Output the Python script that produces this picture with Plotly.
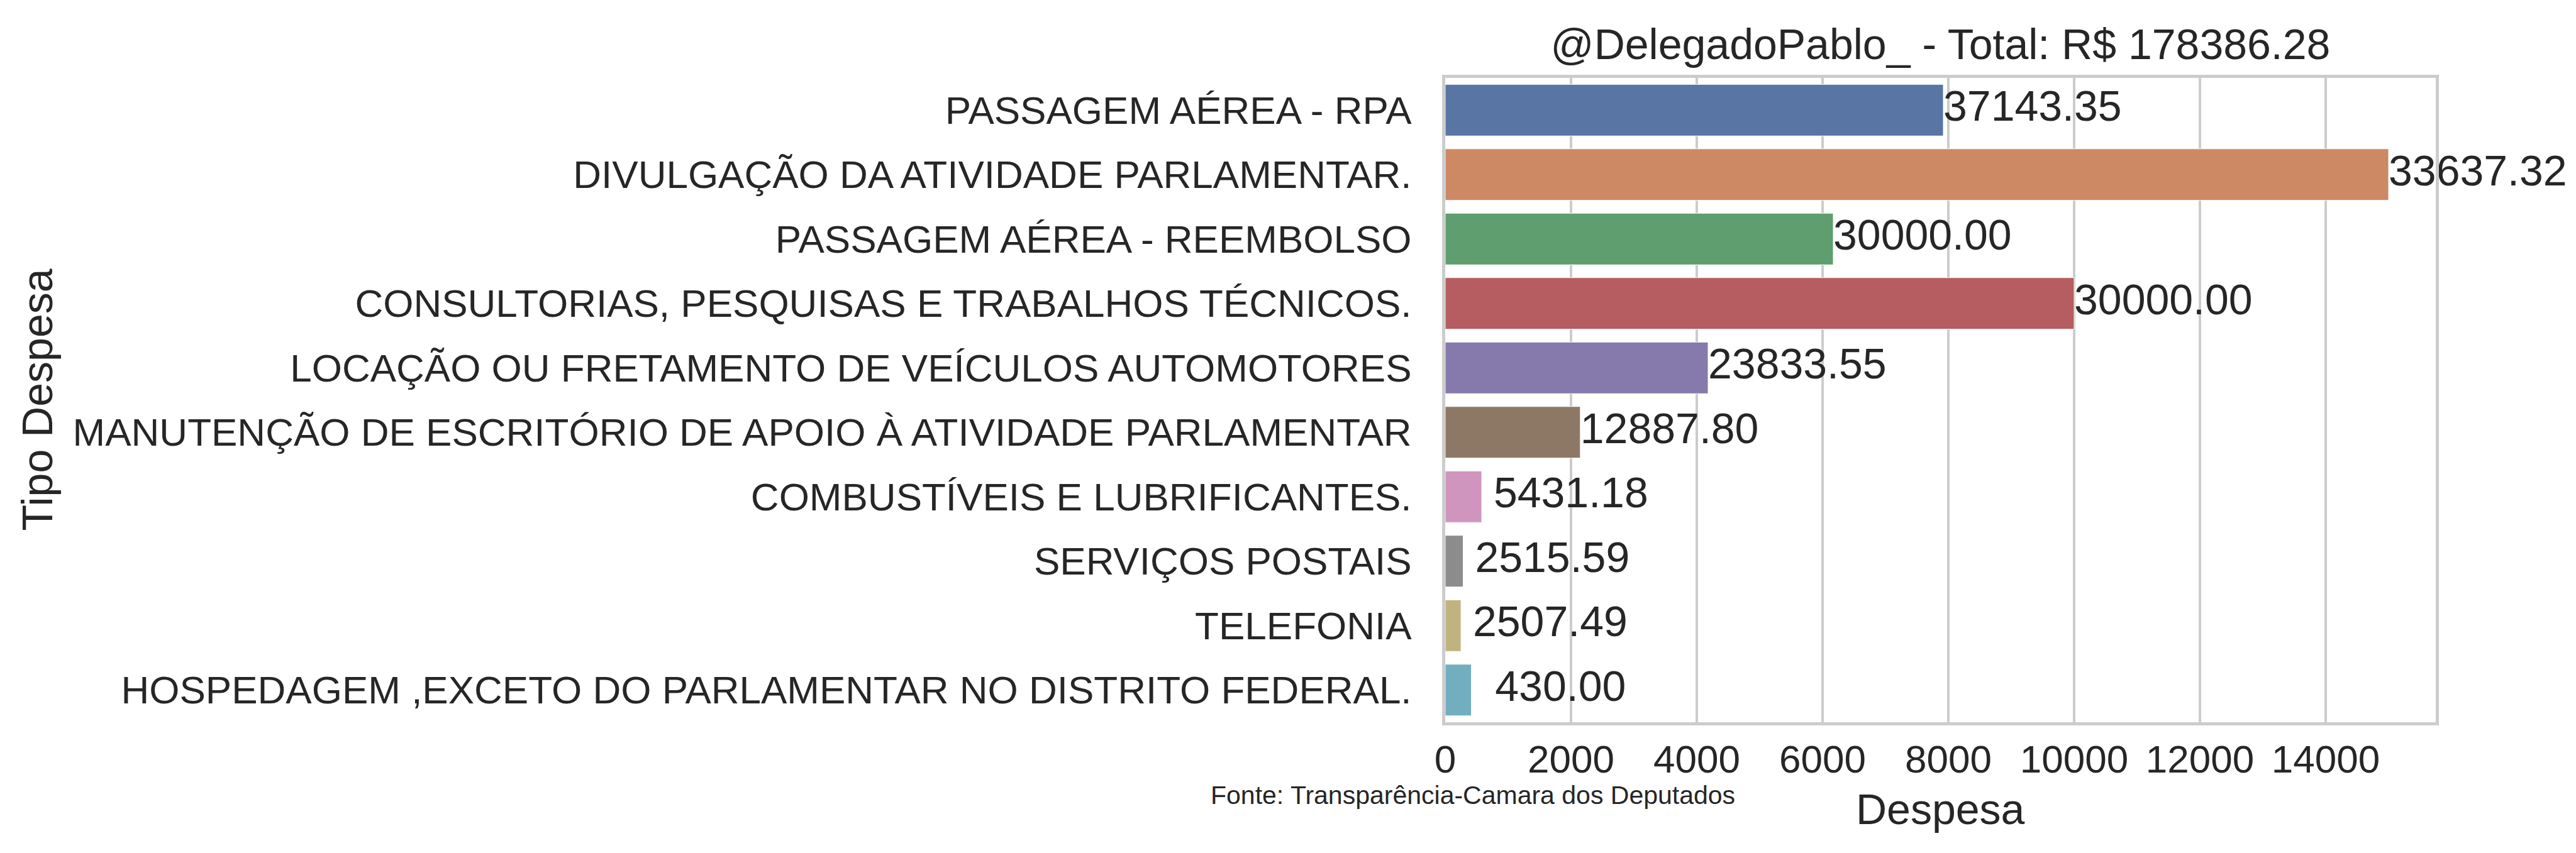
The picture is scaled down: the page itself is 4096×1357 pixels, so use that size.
import plotly.graph_objects as go

categories = [
    "PASSAGEM AÉREA - RPA",
    "DIVULGAÇÃO DA ATIVIDADE PARLAMENTAR.",
    "PASSAGEM AÉREA - REEMBOLSO",
    "CONSULTORIAS, PESQUISAS E TRABALHOS TÉCNICOS.",
    "LOCAÇÃO OU FRETAMENTO DE VEÍCULOS AUTOMOTORES",
    "MANUTENÇÃO DE ESCRITÓRIO DE APOIO À ATIVIDADE PARLAMENTAR",
    "COMBUSTÍVEIS E LUBRIFICANTES.",
    "SERVIÇOS POSTAIS",
    "TELEFONIA",
    "HOSPEDAGEM ,EXCETO DO PARLAMENTAR NO DISTRITO FEDERAL.",
]
# bar lengths (mean per expense)
bar_values = [7920, 15000, 6170, 10000, 4180, 2148, 580, 285, 251, 415]
# totals written as labels
totals = [37143.35, 33637.32, 30000.00, 30000.00, 23833.55, 12887.80, 5431.18, 2515.59, 2507.49, 430.00]
colors = ["#5875a4", "#cc8963", "#5f9e6e", "#b55d60", "#857aab",
          "#8d7866", "#d095bf", "#8c8c8c", "#c1b37f", "#71aec0"]
x_ticks = [0, 2000, 4000, 6000, 8000, 10000, 12000, 14000]
title_text = "@DelegadoPablo_ - Total: R$ 178386.28"

FONT = "Liberation Sans, Arial, sans-serif"
DARK = "#262626"
GRID = "#cccccc"

W, H = 4096, 1357
L, R, T, B = 2290, 231, 116, 216
pw, ph = W - L - R, H - T - B

fig = go.Figure()
fig.add_trace(go.Bar(
    x=bar_values, y=categories, orientation="h",
    marker=dict(color=colors, line=dict(color="white", width=1)),
    width=0.8, showlegend=False, hoverinfo="skip",
))
fig.add_trace(go.Scatter(
    x=bar_values, y=categories, mode="text",
    text=[f"{v:8.2f}".replace(" ", "\u00a0") for v in totals],
    textposition="middle right",
    textfont=dict(family=FONT, size=68, color=DARK),
    showlegend=False, hoverinfo="skip", cliponaxis=False,
))

fig.update_layout(
    width=W, height=H,
    margin=dict(l=L, r=R, t=T, b=B, pad=0),
    paper_bgcolor="white", plot_bgcolor="white",
    font=dict(family=FONT, color=DARK),
    title=dict(text=title_text, x=0.5, xref="paper", xanchor="center",
               y=1, yref="paper", yanchor="bottom", pad=dict(b=30),
               font=dict(family=FONT, size=68, color=DARK)),
    xaxis=dict(range=[0, 15750], tickvals=x_ticks, ticktext=[str(t) for t in x_ticks],
               showgrid=True, gridcolor=GRID, gridwidth=4,
               showline=True, linecolor=GRID, linewidth=5, mirror=True,
               zeroline=False, ticks="", ticklabelstandoff=1,
               tickfont=dict(family=FONT, size=62, color=DARK)),
    yaxis=dict(type="category", range=[9.5, -0.5],
               showgrid=False, showline=True, linecolor=GRID, linewidth=5, mirror=True,
               zeroline=False, ticks="", ticklabelstandoff=36,
               tickfont=dict(family=FONT, size=62, color=DARK)),
    annotations=[
        dict(text="Despesa", x=0.5, xref="paper", xanchor="center",
             y=-0.1424 + 8 / ph, yref="paper", yanchor="middle", showarrow=False,
             font=dict(family=FONT, size=68, color=DARK)),
        dict(text="Tipo Despesa", x=(50 - L) / pw, xref="paper", xanchor="center",
             y=0.5, yref="paper", yanchor="middle", textangle=-90, showarrow=False,
             font=dict(family=FONT, size=68, color=DARK)),
        dict(text="Fonte: Transparência-Camara dos Deputados", x=(1915 - L) / pw, xref="paper",
             xanchor="left", y=(T + ph - 1257) / ph, yref="paper", yanchor="middle",
             showarrow=False, font=dict(family=FONT, size=41, color=DARK)),
    ],
)

fig.write_html("out.html")
